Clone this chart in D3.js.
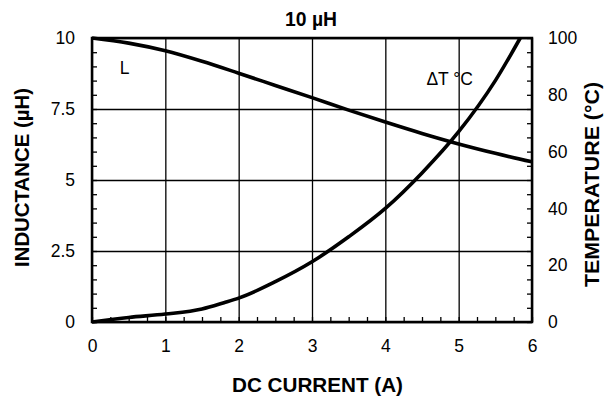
<!DOCTYPE html>
<html>
<head>
<meta charset="utf-8">
<script src="https://cdn.jsdelivr.net/npm/d3@7"></script>
<style>
  body { margin: 0; background: #fff; }
  svg { font-family: "Liberation Sans", Arial, Helvetica, sans-serif; }
  .domain { display: none; }
</style>
</head>
<body>
<div id="chart"></div>
<script>
// inductance curve (left axis)
const indX = [0, 0.5, 1, 1.5, 2, 2.5, 3, 3.5, 4, 4.5, 5, 5.5, 6];
const indY = [10, 9.82, 9.55, 9.18, 8.76, 8.33, 7.9, 7.46, 7.04, 6.64, 6.27, 5.94, 5.64];
// temperature rise curve (right axis)
const tmpX = [0, 0.5, 1, 1.5, 1.8, 2, 2.5, 3, 3.5, 4, 4.5, 5, 5.5, 5.84];
const tmpY = [0, 1.6, 2.8, 4.6, 6.8, 8.4, 14.2, 21.2, 30, 40, 52.5, 67, 85, 100];

const xTicks = [0, 1, 2, 3, 4, 5, 6];
const leftTicks = [0, 2.5, 5, 7.5, 10];
const rightTicks = [0, 20, 40, 60, 80, 100];

var margin = {top: 38, left: 92},
    width = 440,
    height = 284;

var svg = d3.select("#chart").append("svg")
    .attr("width", 605)
    .attr("height", 401);

var g = svg.append("g")
    .attr("transform", "translate(" + margin.left + "," + margin.top + ")");

var x = d3.scaleLinear().domain([0, 6]).range([0, width]);
var yL = d3.scaleLinear().domain([0, 10]).range([height, 0]);
var yR = d3.scaleLinear().domain([0, 100]).range([height, 0]);

// grid lines
g.append("g")
    .attr("transform", "translate(0," + height + ")")
    .call(d3.axisBottom(x).tickValues(xTicks).tickSize(-height).tickFormat(""))
    .selectAll("line").attr("stroke", "#000").attr("stroke-width", 1.3);
g.append("g")
    .call(d3.axisLeft(yL).tickValues(leftTicks).tickSize(-width).tickFormat(""))
    .selectAll("line").attr("stroke", "#000").attr("stroke-width", 1.3);

// minor ticks, pointing inward
g.append("g")
    .attr("transform", "translate(0," + height + ")")
    .call(d3.axisBottom(x).tickValues(d3.range(0, 6.01, 0.25)).tickSize(-5).tickFormat(""))
    .selectAll("line").attr("stroke", "#000").attr("stroke-width", 1.3);
g.append("g")
    .call(d3.axisLeft(yL).tickValues(d3.range(0, 10.01, 0.5)).tickSize(-5).tickFormat(""))
    .selectAll("line").attr("stroke", "#000").attr("stroke-width", 1.3);
g.append("g")
    .attr("transform", "translate(" + width + ",0)")
    .call(d3.axisRight(yR).tickValues(d3.range(0, 100.1, 5)).tickSize(-5).tickFormat(""))
    .selectAll("line").attr("stroke", "#000").attr("stroke-width", 1.3);

// frame
g.append("rect")
    .attr("width", width)
    .attr("height", height)
    .attr("fill", "none")
    .attr("stroke", "#000")
    .attr("stroke-width", 2.5);

// tick labels
var xa = g.append("g")
    .attr("transform", "translate(0," + height + ")")
    .call(d3.axisBottom(x).tickValues(xTicks).tickSize(0).tickPadding(18).tickFormat(d => d));
var la = g.append("g")
    .call(d3.axisLeft(yL).tickValues(leftTicks).tickSize(0).tickPadding(17).tickFormat(d => d));
var ra = g.append("g")
    .attr("transform", "translate(" + width + ",0)")
    .call(d3.axisRight(yR).tickValues(rightTicks).tickSize(0).tickPadding(16).tickFormat(d => d));
[xa, la, ra].forEach(function(a) {
    a.selectAll("text")
    .attr("font-family", "'Liberation Sans', Arial, sans-serif")
    .attr("font-size", "17.5px")
    .attr("fill", "#000");
});

// curves
var line = d3.line().curve(d3.curveMonotoneX);
g.append("path")
    .datum(indX.map((d, i) => [x(d), yL(indY[i])]))
    .attr("fill", "none")
    .attr("stroke", "#000")
    .attr("stroke-width", 3.6)
    .attr("d", line);
g.append("path")
    .datum(tmpX.map((d, i) => [x(d), yR(tmpY[i])]))
    .attr("fill", "none")
    .attr("stroke", "#000")
    .attr("stroke-width", 3.6)
    .attr("d", line);

// curve labels
g.append("text")
    .attr("x", x(0.38))
    .attr("y", yL(8.72) - 0.3)
    .attr("font-size", "17.5px")
    .text("L");
g.append("text")
    .attr("x", x(4.56))
    .attr("y", yR(83.3))
    .attr("font-size", "17.5px")
    .text("ΔT °C");

// titles
function title(txt, len) {
    return svg.append("text")
    .attr("text-anchor", "middle")
    .attr("font-weight", "bold")
    .attr("font-size", "20px")
    .attr("textLength", len)
    .attr("lengthAdjust", "spacingAndGlyphs")
    .text(txt);
}
title("10 µH", 52).attr("x", 311).attr("y", 26);
title("DC CURRENT (A)", 171).attr("x", 317.5).attr("y", 391.5);
title("INDUCTANCE (µH)", 179)
    .attr("transform", "translate(29,177.5) rotate(-90)");
title("TEMPERATURE (°C)", 205)
    .attr("transform", "translate(599,184.5) rotate(-90)");
</script>
</body>
</html>
